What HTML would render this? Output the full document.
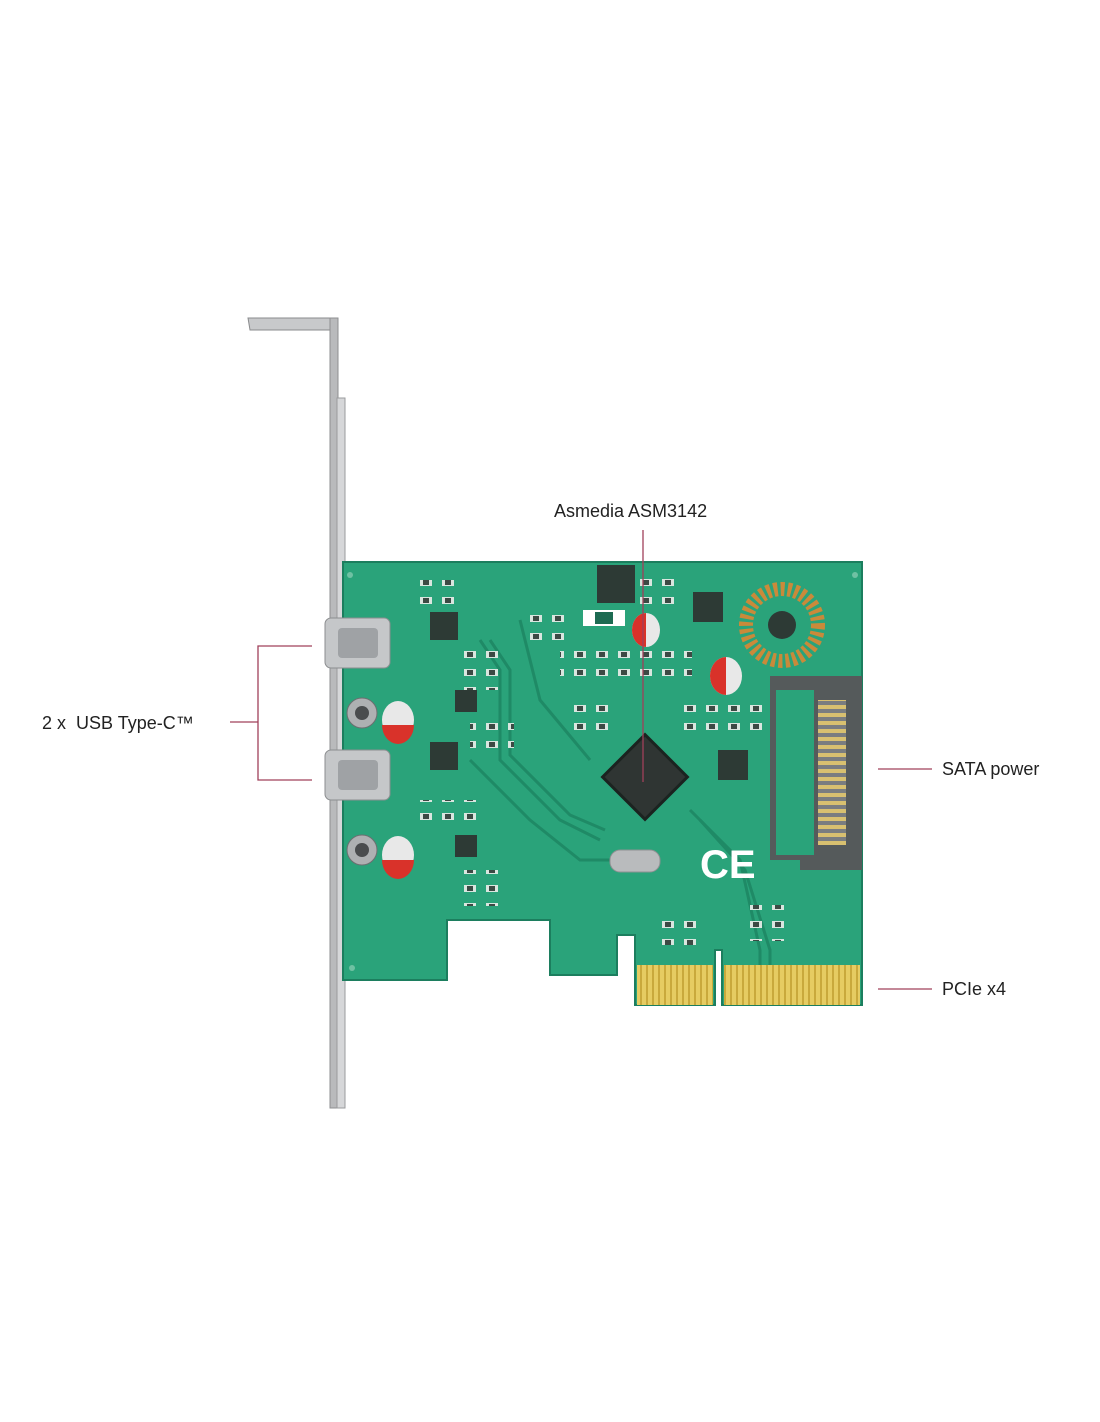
<!DOCTYPE html>
<html><head><meta charset="utf-8"><style>
body{margin:0;background:#fff;}
svg{display:block}
text{font-family:"Liberation Sans",sans-serif;font-size:18px;fill:#222}
</style></head><body>
<svg width="1100" height="1422" viewBox="0 0 1100 1422">
<defs>
<pattern id="gold" width="6" height="40" patternUnits="userSpaceOnUse"><rect width="6" height="40" fill="#c9a93c"/><rect x="0" width="4" height="40" fill="#e6cc62"/></pattern>
<pattern id="sata" width="10" height="8" patternUnits="userSpaceOnUse"><rect width="10" height="8" fill="#7a7d80"/><rect y="1" width="10" height="4" fill="#d8c070"/></pattern>
<pattern id="smd" width="22" height="18" patternUnits="userSpaceOnUse"><rect x="2" y="3" width="12" height="7" fill="#d9e6df"/><rect x="5" y="4" width="6" height="5" fill="#3c4a44"/></pattern>
</defs>
<!-- bracket -->
<path d="M248 318 L336 318 L336 330 L250 330 Z" fill="#c8c9cb" stroke="#8a8b8d"/>
<rect x="330" y="318" width="8" height="790" fill="#b9babc" stroke="#8e8f91"/>
<rect x="337" y="398" width="8" height="710" fill="#d6d7d9" stroke="#9a9b9d"/>
<!-- PCB -->
<path d="M343 562 L862 562 L862 1005 L722 1005 L722 950 L715 950 L715 1005 L635 1005 L635 935 L617 935 L617 975 L550 975 L550 920 L447 920 L447 980 L343 980 Z" fill="#2aa37a" stroke="#1c7e5e" stroke-width="2"/>
<!-- traces -->
<g fill="none" stroke="#1f8a66" stroke-width="3">
<path d="M480 640 L500 670 L500 760 L560 820 L600 840"/>
<path d="M490 640 L510 670 L510 755 L570 815 L605 830"/>
<path d="M470 760 L530 820 L580 860 L620 860"/>
<path d="M520 620 L540 700 L590 760"/>
<path d="M690 810 L740 860 L760 950 L760 990"/>
<path d="M700 820 L745 870 L770 950 L770 990"/>
</g>
<!-- smd clusters -->
<rect x="418" y="580" width="44" height="30" fill="url(#smd)"/>
<rect x="460" y="640" width="44" height="50" fill="url(#smd)"/>
<rect x="470" y="720" width="44" height="36" fill="url(#smd)"/>
<rect x="415" y="800" width="66" height="30" fill="url(#smd)"/>
<rect x="460" y="870" width="44" height="36" fill="url(#smd)"/>
<rect x="520" y="610" width="44" height="36" fill="url(#smd)"/>
<rect x="560" y="650" width="132" height="36" fill="url(#smd)"/>
<rect x="640" y="575" width="44" height="36" fill="url(#smd)"/>
<rect x="680" y="700" width="88" height="36" fill="url(#smd)"/>
<rect x="570" y="700" width="44" height="36" fill="url(#smd)"/>
<rect x="660" y="915" width="44" height="30" fill="url(#smd)"/>
<rect x="740" y="905" width="44" height="36" fill="url(#smd)"/>
<!-- gold fingers -->
<rect x="637" y="965" width="76" height="40" fill="url(#gold)"/>
<rect x="724" y="965" width="136" height="40" fill="url(#gold)"/>
<!-- USB C ports -->
<rect x="325" y="618" width="65" height="50" rx="6" fill="#c5c7c9" stroke="#8c8e90"/>
<rect x="338" y="628" width="40" height="30" rx="4" fill="#9fa2a5"/>
<rect x="325" y="750" width="65" height="50" rx="6" fill="#c5c7c9" stroke="#8c8e90"/>
<rect x="338" y="760" width="40" height="30" rx="4" fill="#9fa2a5"/>
<!-- screws -->
<circle cx="362" cy="713" r="15" fill="#aeb0b2" stroke="#6c6e70"/>
<circle cx="362" cy="713" r="7" fill="#4a4c4e"/>
<circle cx="362" cy="850" r="15" fill="#aeb0b2" stroke="#6c6e70"/>
<circle cx="362" cy="850" r="7" fill="#4a4c4e"/>
<!-- caps -->
<ellipse cx="398" cy="720" rx="16" ry="19" fill="#e8e8e8"/><path d="M382 725 A16 19 0 0 0 414 725 Z" fill="#d9322a"/>
<ellipse cx="398" cy="855" rx="16" ry="19" fill="#e8e8e8"/><path d="M382 860 A16 19 0 0 0 414 860 Z" fill="#d9322a"/>
<ellipse cx="646" cy="630" rx="14" ry="17" fill="#e8e8e8"/><path d="M632 630 A14 17 0 0 1 646 613 L646 647 A14 17 0 0 1 632 630Z" fill="#d9322a"/>
<ellipse cx="726" cy="676" rx="16" ry="19" fill="#e8e8e8"/><path d="M710 676 A16 19 0 0 1 726 657 L726 695 A16 19 0 0 1 710 676Z" fill="#d9322a"/>
<!-- chips -->
<rect x="597" y="565" width="38" height="38" fill="#2d3a35"/>
<rect x="583" y="610" width="42" height="16" fill="#fff"/><rect x="595" y="612" width="18" height="12" fill="#1d6b52"/>
<rect x="693" y="592" width="30" height="30" fill="#2d3a35"/>
<rect x="430" y="612" width="28" height="28" fill="#2d3a35"/>
<rect x="430" y="742" width="28" height="28" fill="#2d3a35"/>
<rect x="455" y="690" width="22" height="22" fill="#2d3a35"/>
<rect x="455" y="835" width="22" height="22" fill="#2d3a35"/>
<rect x="718" y="750" width="30" height="30" fill="#2d3a35"/>
<rect x="615" y="747" width="60" height="60" transform="rotate(45 645 777)" fill="#2f3533" stroke="#1b2320" stroke-width="3"/>
<rect x="610" y="850" width="50" height="22" rx="10" fill="#b9bbbd" stroke="#8e9092"/>
<!-- toroid -->
<circle cx="782" cy="625" r="44" fill="#2aa37a"/>
<circle cx="782" cy="625" r="36" fill="none" stroke="#c98a3a" stroke-width="14" stroke-dasharray="4 3"/>
<circle cx="782" cy="625" r="14" fill="#2d3a35"/>
<!-- SATA -->
<path d="M770 676 L862 676 L862 870 L800 870 L800 860 L770 860 Z" fill="#555a5b"/>
<rect x="818" y="700" width="28" height="145" fill="url(#sata)"/>
<rect x="776" y="690" width="38" height="165" fill="#2aa37a"/>
<!-- CE -->
<text x="700" y="878" style="font-size:40px;fill:#fff;font-weight:bold">CE</text>
<g fill="#9ed6be" opacity="0.6"><circle cx="350" cy="575" r="3"/><circle cx="855" cy="575" r="3"/><circle cx="352" cy="968" r="3"/></g>
<!-- labels -->
<g stroke="#a0405a" stroke-width="1.3" fill="none">
<line x1="643" y1="530" x2="643" y2="782"/>
<path d="M312 646 L258 646 L258 780 L312 780"/>
<line x1="230" y1="722" x2="258" y2="722"/>
<line x1="878" y1="769" x2="932" y2="769"/>
<line x1="878" y1="989" x2="932" y2="989"/>
</g>
<text x="554" y="517">Asmedia ASM3142</text>
<text x="42" y="729" xml:space="preserve">2 x  USB Type-C™</text>
<text x="942" y="775">SATA power</text>
<text x="942" y="995">PCIe x4</text>
</svg>
</body></html>
